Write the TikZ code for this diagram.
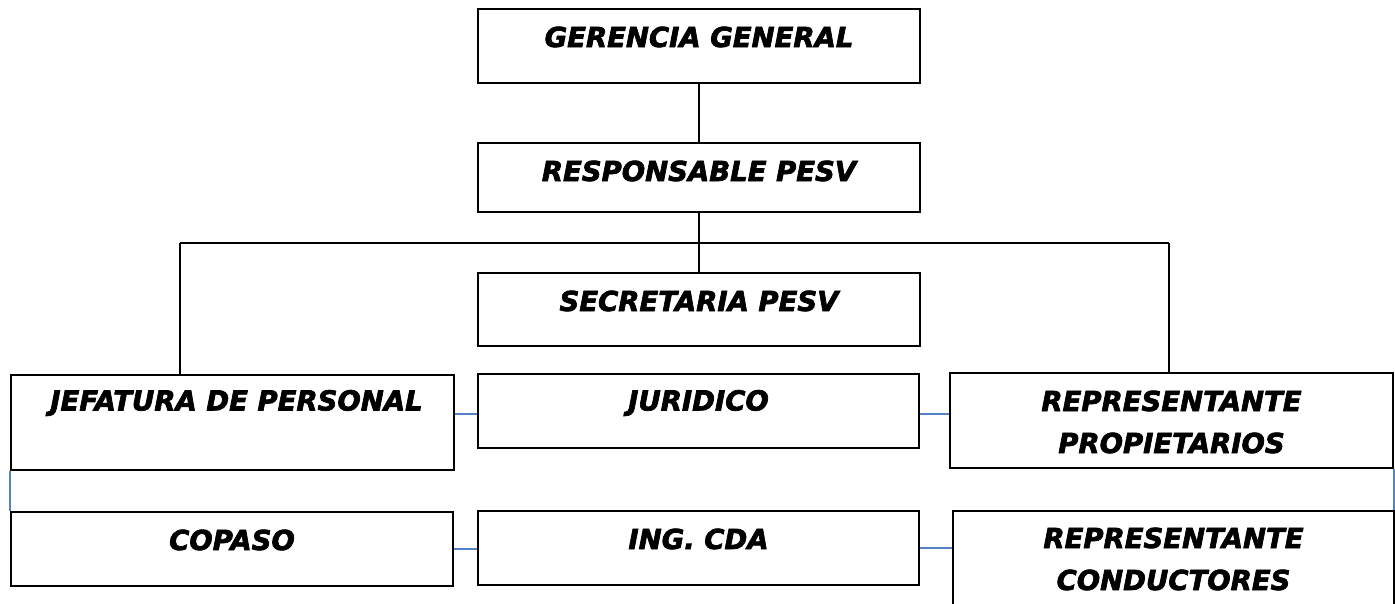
\documentclass[tikz,border=0pt]{standalone}
\usepackage{fontspec}
\setmainfont{DejaVu Sans}[BoldItalicFeatures={FakeBold=2.5}]
\definecolor{linkblue}{RGB}{84,130,196}
\begin{document}
\begin{tikzpicture}[x=1pt,y=-1pt,
  box/.style={draw=black,line width=2pt,rectangle,anchor=north west,inner sep=0pt},
  lbl/.style={font=\fontsize{27.5}{42}\selectfont\bfseries\itshape,inner sep=0pt,align=center},
  conn/.style={draw=black,line width=2pt},
  blueconn/.style={draw=linkblue,line width=2pt}]
\clip (0,0) rectangle (1395,604);
\fill[white] (0,0) rectangle (1395,604);
% boxes
\node[box,minimum width=442pt,minimum height=74pt] (gg) at (477,8) {};
\node[box,minimum width=442pt,minimum height=69pt] (rp) at (477,142) {};
\node[box,minimum width=442pt,minimum height=73pt] (sp) at (477,272) {};
\node[box,minimum width=443pt,minimum height=95pt] (jp) at (10,374) {};
\node[box,minimum width=441pt,minimum height=74pt] (jur) at (477,373) {};
\node[box,minimum width=443pt,minimum height=95pt] (rprop) at (949,372) {};
\node[box,minimum width=442pt,minimum height=74pt] (cop) at (10,511) {};
\node[box,minimum width=441pt,minimum height=74pt] (ing) at (477,510) {};
\node[box,minimum width=441pt,minimum height=120pt] (rc) at (952,510) {};
% labels
\node[lbl] (tgg) at ([yshift=-29pt]gg.north) {GERENCIA GENERAL};
\node[lbl] (trp) at ([yshift=-29pt]rp.north) {RESPONSABLE PESV};
\node[lbl] (tsp) at ([yshift=-29pt]sp.north) {SECRETARIA PESV};
\node[lbl] (tjp) at ([yshift=-29pt,xshift=4pt]jp.north) {JEFATURA DE PERSONAL};
\node[lbl] (tjur) at ([yshift=-30pt]jur.north) {JURIDICO};
\node[lbl] (trprop) at ([yshift=-50pt]rprop.north) {REPRESENTANTE\\PROPIETARIOS};
\node[lbl] (tcop) at ([yshift=-29pt]cop.north) {COPASO};
\node[lbl] (ting) at ([yshift=-29pt]ing.north) {ING. CDA};
\node[lbl] (trc) at ([yshift=-49pt]rc.north) {REPRESENTANTE\\CONDUCTORES};
% black connectors
\coordinate (barL) at (180,243);
\coordinate (barR) at (1169,243);
\draw[conn] (gg.south) -- (gg.south |- rp.north);
\draw[conn] (rp.south) -- (rp.south |- sp.north);
\draw[conn] (barL) -- (barR);
\draw[conn] (barL) -- (barL |- jp.north);
\draw[conn] (barR) -- (barR |- rprop.north);
% blue connectors
\coordinate (jy) at (0,414);
\draw[blueconn] (jp.east |- jy) -- (jur.west |- jy);
\draw[blueconn] (jur.east |- jy) -- (rprop.west |- jy);
\draw[blueconn] (cop.east) -- (cop.east -| ing.west);
\draw[blueconn] (ing.east) -- (ing.east -| rc.west);
\draw[blueconn] (jp.south west) -- (cop.north west);
\draw[blueconn] (rprop.south east) -- (rprop.south east |- rc.north);
\end{tikzpicture}
\end{document}
